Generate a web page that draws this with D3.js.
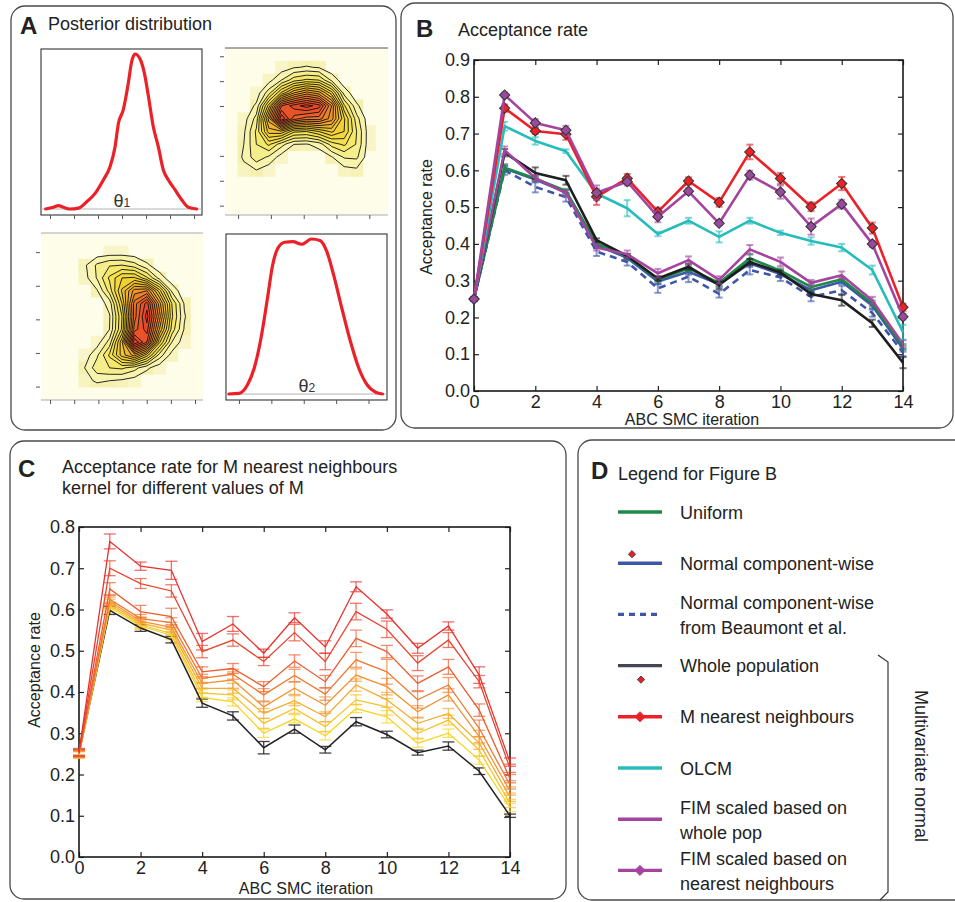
<!DOCTYPE html>
<html>
<head>
<meta charset="utf-8">
<script src="https://cdn.jsdelivr.net/npm/d3@7"></script>
<style>
  body { margin: 0; background: #fff; }
  svg { display: block; font-family: "Liberation Sans", Arial, sans-serif; }
</style>
</head>
<body>
<svg id="fig" width="955" height="902"></svg>
<script>
// ---- data ----
var iterations = [0, 1, 2, 3, 4, 5, 6, 7, 8, 9, 10, 11, 12, 13, 14];
var iterTicks = [0, 2, 4, 6, 8, 10, 12, 14];
var rateTicksB = [0, 0.1, 0.2, 0.3, 0.4, 0.5, 0.6, 0.7, 0.8, 0.9];
var rateTicksC = [0, 0.1, 0.2, 0.3, 0.4, 0.5, 0.6, 0.7, 0.8];

// panel A, marginal densities (relative height)
var theta1Ticks = [1, 2, 3, 4, 5, 6, 7];
var theta1TicksSide = [1, 2, 3, 5, 6, 7];
var theta2Ticks = [1, 2, 3, 4, 5];
var theta1At = [0.82, 1.14, 1.35, 1.56, 1.83, 2.18, 2.53, 2.88, 3.22, 3.5, 3.71, 3.85, 4.05, 4.26, 4.4, 4.54, 4.75, 4.93, 5.1, 5.3, 5.51, 5.72, 5.93, 6.21, 6.49, 6.76, 7.11];
var theta1Dens = [0, 0.011, 0.022, 0.011, 0, 0.006, 0.047, 0.101, 0.187, 0.273, 0.402, 0.553, 0.639, 0.811, 0.95, 1.0, 0.968, 0.877, 0.726, 0.532, 0.402, 0.252, 0.187, 0.123, 0.058, 0.011, 0];
var theta2At = [0.69, 1.0, 1.26, 1.47, 1.68, 1.88, 2.04, 2.2, 2.41, 2.67, 2.93, 3.24, 3.5, 3.71, 3.92, 4.18, 4.44, 4.7, 4.96, 5.22, 5.43];
var theta2Dens = [0, 0.004, 0.058, 0.166, 0.36, 0.618, 0.832, 0.94, 0.979, 0.983, 0.966, 1.0, 0.99, 0.92, 0.77, 0.55, 0.34, 0.166, 0.058, 0.011, 0];

// joint posterior density, columns = theta1 (low->high), rows = theta2 (high->low)
var jointDens = [
  [0, 0, 0, 0, 0, 0, 0, 0, 0, 0, 0, 0, 0],
  [0, 0, 0, 0, 0.3, 0.4, 0.4, 0.3, 0.1, 0, 0, 0, 0],
  [0, 0, 0, 0.8, 2.2, 2.9, 3.0, 2.4, 1.2, 0.3, 0, 0, 0],
  [0, 0, 0, 0.6, 2.1, 4.2, 6.0, 6.2, 4.2, 1.6, 0.3, 0, 0],
  [0, 0, 0, 0.2, 0.9, 3.4, 7.2, 10.5, 11, 6.5, 1.8, 0.2, 0],
  [0, 0, 0, 0, 0.3, 1.4, 6.0, 12.5, 15.5, 9.5, 4.0, 0.9, 0],
  [0, 0, 0, 0, 0.1, 0.9, 5.0, 12.5, 16.5, 10.5, 4.2, 1.1, 0],
  [0, 0, 0, 0, 0.2, 1.0, 5.2, 13.5, 15.5, 9.0, 3.6, 0.9, 0],
  [0, 0, 0, 0, 0.5, 2.4, 7.8, 17, 14, 6.2, 2.0, 0.4, 0],
  [0, 0, 0, 0.4, 1.8, 4.2, 7.5, 9.5, 6.5, 2.6, 0.6, 0, 0],
  [0, 0, 0, 1.0, 2.6, 3.0, 3.2, 2.4, 1.2, 0.4, 0, 0, 0],
  [0, 0, 0, 0.6, 1.2, 1.0, 0.8, 0.5, 0.2, 0, 0, 0, 0],
  [0, 0, 0, 0, 0, 0, 0, 0, 0, 0, 0, 0, 0]
];
var contourLevels = [1, 2, 3, 4, 5, 6, 7, 8, 9, 10, 11, 12, 13, 14, 15, 16, 17];

// panel B, acceptance rate per kernel
var uniform      = [0.25, 0.607, 0.578, 0.544, 0.401, 0.366, 0.303, 0.333, 0.294, 0.361, 0.327, 0.283, 0.304, 0.238, 0.12];
var uniformErr   = [0.005, 0.01, 0.008, 0.006, 0.006, 0.006, 0.008, 0.008, 0.008, 0.01, 0.006, 0.008, 0.006, 0.008, 0.008];
var normalCW     = [0.25, 0.605, 0.575, 0.54, 0.397, 0.362, 0.298, 0.324, 0.291, 0.347, 0.318, 0.274, 0.297, 0.232, 0.115];
var normalCWErr  = [0.005, 0.008, 0.008, 0.006, 0.006, 0.006, 0.008, 0.008, 0.008, 0.01, 0.006, 0.008, 0.006, 0.008, 0.008];
var beaumont     = [0.25, 0.60, 0.555, 0.527, 0.379, 0.351, 0.279, 0.311, 0.264, 0.329, 0.309, 0.256, 0.274, 0.212, 0.105];
var beaumontErr  = [0.005, 0.012, 0.015, 0.012, 0.012, 0.01, 0.012, 0.015, 0.01, 0.012, 0.01, 0.012, 0.012, 0.01, 0.01];
var wholePop     = [0.25, 0.648, 0.593, 0.573, 0.41, 0.367, 0.306, 0.338, 0.288, 0.351, 0.322, 0.264, 0.247, 0.184, 0.077];
var wholePopErr  = [0.005, 0.01, 0.015, 0.012, 0.005, 0.006, 0.006, 0.008, 0.01, 0.008, 0.006, 0.005, 0.015, 0.01, 0.015];
var mNearest     = [0.25, 0.769, 0.707, 0.698, 0.528, 0.578, 0.487, 0.571, 0.513, 0.65, 0.578, 0.501, 0.564, 0.443, 0.228];
var mNearestErr  = [0.005, 0.01, 0.008, 0.015, 0.022, 0.012, 0.012, 0.01, 0.012, 0.02, 0.015, 0.012, 0.018, 0.015, 0.01];
var olcm         = [0.25, 0.72, 0.68, 0.652, 0.537, 0.497, 0.427, 0.463, 0.419, 0.463, 0.43, 0.408, 0.39, 0.329, 0.16];
var olcmErr      = [0.005, 0.012, 0.01, 0.005, 0.008, 0.022, 0.006, 0.008, 0.015, 0.008, 0.006, 0.01, 0.01, 0.012, 0.02];
var fimWhole     = [0.25, 0.655, 0.579, 0.538, 0.39, 0.372, 0.32, 0.356, 0.302, 0.385, 0.351, 0.294, 0.315, 0.246, 0.128];
var fimWholeErr  = [0.005, 0.01, 0.008, 0.008, 0.008, 0.01, 0.012, 0.01, 0.01, 0.012, 0.012, 0.008, 0.01, 0.01, 0.01];
var fimNearest   = [0.25, 0.805, 0.729, 0.709, 0.539, 0.569, 0.474, 0.543, 0.456, 0.587, 0.541, 0.447, 0.508, 0.40, 0.202];
var fimNearestErr= [0.005, 0.006, 0.01, 0.012, 0.02, 0.01, 0.015, 0.008, 0.005, 0.012, 0.018, 0.022, 0.012, 0.008, 0.008];

// panel C, M nearest neighbours for decreasing M (red -> yellow), whole population last
var mLines = [
  [0.255, 0.765, 0.705, 0.695, 0.522, 0.565, 0.494, 0.58, 0.509, 0.655, 0.589, 0.506, 0.56, 0.441, 0.23],
  [0.253, 0.70, 0.663, 0.645, 0.498, 0.526, 0.474, 0.544, 0.474, 0.595, 0.552, 0.47, 0.526, 0.425, 0.215],
  [0.252, 0.65, 0.595, 0.583, 0.449, 0.457, 0.413, 0.475, 0.425, 0.53, 0.498, 0.421, 0.461, 0.356, 0.19],
  [0.25, 0.625, 0.578, 0.568, 0.433, 0.443, 0.393, 0.44, 0.395, 0.478, 0.449, 0.381, 0.417, 0.312, 0.175],
  [0.25, 0.62, 0.572, 0.557, 0.421, 0.429, 0.364, 0.409, 0.368, 0.441, 0.413, 0.352, 0.393, 0.292, 0.16],
  [0.249, 0.615, 0.567, 0.55, 0.409, 0.409, 0.348, 0.379, 0.34, 0.417, 0.381, 0.324, 0.348, 0.276, 0.145],
  [0.248, 0.61, 0.563, 0.542, 0.397, 0.393, 0.324, 0.36, 0.316, 0.381, 0.364, 0.30, 0.332, 0.259, 0.13],
  [0.247, 0.605, 0.56, 0.537, 0.387, 0.376, 0.30, 0.335, 0.294, 0.36, 0.34, 0.276, 0.30, 0.235, 0.12],
  [0.25, 0.598, 0.555, 0.527, 0.373, 0.342, 0.265, 0.31, 0.26, 0.328, 0.297, 0.253, 0.269, 0.208, 0.10]
];
var mLinesErr = [
  [0.008, 0.018, 0.01, 0.022, 0.02, 0.018, 0.01, 0.012, 0.015, 0.012, 0.01, 0.012, 0.01, 0.02, 0.01],
  [0.008, 0.018, 0.012, 0.015, 0.015, 0.015, 0.01, 0.02, 0.02, 0.02, 0.02, 0.018, 0.018, 0.015, 0.01],
  [0.008, 0.015, 0.015, 0.02, 0.012, 0.012, 0.012, 0.015, 0.015, 0.02, 0.015, 0.018, 0.018, 0.015, 0.01],
  [0.008, 0.01, 0.01, 0.012, 0.01, 0.012, 0.015, 0.015, 0.015, 0.018, 0.03, 0.02, 0.018, 0.02, 0.01],
  [0.008, 0.01, 0.01, 0.012, 0.012, 0.02, 0.012, 0.015, 0.02, 0.015, 0.02, 0.015, 0.015, 0.015, 0.01],
  [0.008, 0.01, 0.01, 0.01, 0.012, 0.012, 0.012, 0.012, 0.012, 0.015, 0.018, 0.015, 0.012, 0.015, 0.01],
  [0.008, 0.008, 0.01, 0.01, 0.01, 0.012, 0.012, 0.012, 0.012, 0.012, 0.02, 0.012, 0.012, 0.015, 0.01],
  [0.008, 0.008, 0.008, 0.01, 0.01, 0.01, 0.01, 0.01, 0.01, 0.01, 0.015, 0.01, 0.01, 0.01, 0.01],
  [0.006, 0.01, 0.008, 0.008, 0.01, 0.01, 0.015, 0.01, 0.008, 0.01, 0.008, 0.006, 0.01, 0.008, 0.004]
];
var mColors = ["#e8312c", "#e9442e", "#ec5c30", "#ef7832", "#f29333", "#f5ab30", "#f7c22b", "#f8d424", "#222222"];

// panel D
var legendLabels = [
  ["Uniform"],
  ["Normal component-wise"],
  ["Normal component-wise", "from Beaumont et al."],
  ["Whole population"],
  ["M nearest neighbours"],
  ["OLCM"],
  ["FIM scaled based on", "whole pop"],
  ["FIM scaled based on", "nearest neighbours"]
];

// ---- drawing ----
var svg = d3.select("#fig");
var FONT = "Liberation Sans, Arial, sans-serif";

var seriesB = [
  { values: beaumont,   err: beaumontErr,   color: "#3d56a8", dash: "7,5", marker: null },
  { values: normalCW,   err: normalCWErr,   color: "#3d56a8", dash: null,  marker: null },
  { values: uniform,    err: uniformErr,    color: "#1d8a47", dash: null,  marker: null },
  { values: wholePop,   err: wholePopErr,   color: "#1e1e1e", dash: null,  marker: null },
  { values: fimWhole,   err: fimWholeErr,   color: "#a4449e", dash: null,  marker: null },
  { values: olcm,       err: olcmErr,       color: "#27bcbc", dash: null,  marker: null },
  { values: mNearest,   err: mNearestErr,   color: "#ec2127", dash: null,  marker: "#ec2127" },
  { values: fimNearest, err: fimNearestErr, color: "#a4449e", dash: null,  marker: "#9a4a9e" }
];

var legendStyles = [
  { color: "#1d8a47", dash: null, marker: null },
  { color: "#3d56a8", dash: null, marker: "above" },
  { color: "#3d56a8", dash: "6,5", marker: null },
  { color: "#45455a", dash: null, marker: "below" },
  { color: "#ec2127", dash: null, marker: "#ec2127" },
  { color: "#27bcbc", dash: null, marker: null },
  { color: "#a4449e", dash: null, marker: null },
  { color: "#a4449e", dash: null, marker: "#a4449e" }
];

function frame(x, y, w, h) {
  svg.append("rect")
    .attr("x", x).attr("y", y).attr("width", w).attr("height", h)
    .attr("rx", 14).attr("ry", 14)
    .attr("fill", "none").attr("stroke", "#4a4a4a").attr("stroke-width", 1.3);
}

function label(x, y, txt, size, weight) {
  return svg.append("text").attr("x", x).attr("y", y)
    .attr("font-size", size).attr("font-weight", weight || "normal")
    .attr("fill", "#222").text(txt);
}

function styleAxis(sel, fontSize) {
  sel.select(".domain").remove();
  sel.selectAll("line").attr("stroke", "#222").attr("stroke-width", 1.2);
  sel.selectAll("text").attr("font-size", fontSize).attr("font-family", FONT).attr("fill", "#222");
}

// boxed plot with inward ticks on all four sides
function plotAxes(x, y, yTicks) {
  var g = svg.append("g");
  var x0 = x.range()[0], x1 = x.range()[1], y0 = y.range()[0], y1 = y.range()[1];
  g.append("g").attr("transform", "translate(0," + y0 + ")")
    .call(d3.axisBottom(x).tickValues(iterTicks).tickSizeInner(-5).tickSizeOuter(0).tickPadding(4).tickFormat(d3.format("d")))
    .call(styleAxis, 18);
  g.append("g").attr("transform", "translate(0," + y1 + ")")
    .call(d3.axisTop(x).tickValues(iterTicks).tickSizeInner(-5).tickSizeOuter(0).tickFormat(""))
    .call(styleAxis, 18);
  g.append("g").attr("transform", "translate(" + x0 + ",0)")
    .call(d3.axisLeft(y).tickValues(yTicks).tickSizeInner(-5).tickSizeOuter(0).tickPadding(4).tickFormat(d3.format(".1f")))
    .call(styleAxis, 18);
  g.append("g").attr("transform", "translate(" + x1 + ",0)")
    .call(d3.axisRight(y).tickValues(yTicks).tickSizeInner(-5).tickSizeOuter(0).tickFormat(""))
    .call(styleAxis, 18);
  g.append("rect").attr("x", x0).attr("y", y1).attr("width", x1 - x0).attr("height", y0 - y1)
    .attr("fill", "none").attr("stroke", "#1a1a1a").attr("stroke-width", 1.6);
}

function errorBars(g, x, y, values, err, color, cap, width, opacity) {
  var eb = g.append("g").attr("stroke", color).attr("stroke-width", width).attr("stroke-opacity", opacity);
  values.forEach(function(v, i) {
    var cx = x(iterations[i]), lo = y(v - err[i]), hi = y(v + err[i]);
    eb.append("line").attr("x1", cx).attr("x2", cx).attr("y1", lo).attr("y2", hi);
    eb.append("line").attr("x1", cx - cap).attr("x2", cx + cap).attr("y1", lo).attr("y2", lo);
    eb.append("line").attr("x1", cx - cap).attr("x2", cx + cap).attr("y1", hi).attr("y2", hi);
  });
}

var diamond = d3.symbol().type(d3.symbolSquare).size(52);
var smallDiamond = d3.symbol().type(d3.symbolSquare).size(26);

// ---- panel A ----
frame(11, 6, 385, 424);
label(20, 34, "A", 24, "bold");
label(48, 30, "Posterior distribution", 18);

function tickRow(scale, ticks, orient, pos) {
  var ax = orient === "bottom" ? d3.axisBottom(scale) : d3.axisLeft(scale);
  var g = svg.append("g")
    .attr("transform", orient === "bottom" ? "translate(0," + pos + ")" : "translate(" + pos + ",0)")
    .call(ax.tickValues(ticks).tickSizeInner(4).tickSizeOuter(0).tickFormat(""));
  g.select(".domain").remove();
  g.selectAll("line").attr("stroke", "#555").attr("stroke-width", 1);
}

function densityPanel(left, top, w, h, base, at, dens, ticks, dom, sym, sub) {
  var x = d3.scaleLinear().domain(dom).range([left, left + w]);
  var y = d3.scaleLinear().domain([0, 1]).range([base, base - 155]);
  svg.append("rect").attr("x", left).attr("y", top).attr("width", w).attr("height", h)
    .attr("fill", "#fff").attr("stroke", "#333").attr("stroke-width", 1.1);
  svg.append("line").attr("x1", left).attr("x2", left + w).attr("y1", base).attr("y2", base)
    .attr("stroke", "#b4b4b4").attr("stroke-width", 1.2);
  var t = svg.append("text").attr("x", x((dom[0] + dom[1]) / 2) - 8).attr("y", base - 2)
    .attr("fill", "#333").attr("font-size", 18);
  t.append("tspan").text(sym);
  t.append("tspan").attr("font-size", 12).text(sub);
  svg.append("path")
    .datum(dens)
    .attr("fill", "none").attr("stroke", "#ec2127").attr("stroke-width", 3.2)
    .attr("stroke-linejoin", "round").attr("stroke-linecap", "round")
    .attr("d", d3.line().x(function(d, i) { return x(at[i]); }).y(function(d) { return y(d); })
      .curve(d3.curveMonotoneX));
  tickRow(x, ticks, "bottom", top + h);
}

var theta1Dom = [0.625, 7.33];
var theta2Dom = [0.6, 5.57];

densityPanel(41, 49, 161, 166, 209, theta1At, theta1Dens, theta1Ticks, theta1Dom, "\u03b8", "1");
densityPanel(226, 234, 161, 166, 394, theta2At, theta2Dens, theta2Ticks, theta2Dom, "\u03b8", "2");

var bandColor = d3.interpolateRgbBasis(["#f8f3ad", "#f3e23a", "#f1c22c", "#ee8a27", "#e8522a", "#e23324"]);

function contourPanel(left, top, w, h, grid, transpose) {
  var n = grid.length;
  var values = [];
  for (var r = 0; r < n; r++) {
    for (var c = 0; c < n; c++) {
      values.push(transpose ? grid[n - 1 - c][n - 1 - r] : grid[r][c]);
    }
  }
  var sx = w / n, sy = h / n;
  var g = svg.append("g");
  g.append("rect").attr("x", left).attr("y", top).attr("width", w).attr("height", h).attr("fill", "#fdfde9");
  // raster under the contours
  values.forEach(function(v, k) {
    if (v < 0.35) return;
    g.append("rect")
      .attr("x", left + (k % n) * sx).attr("y", top + Math.floor(k / n) * sy)
      .attr("width", sx + 0.3).attr("height", sy + 0.3)
      .attr("fill", d3.interpolateRgb("#fbf9d8", "#f6f0b0")(Math.min(v, 1)));
  });
  var proj = d3.geoTransform({ point: function(px, py) {
    this.stream.point(left + px * sx, top + py * sy);
  }});
  var path = d3.geoPath(proj);
  var bands = d3.contours().size([n, n]).thresholds(contourLevels)(values);
  var maxLevel = contourLevels[contourLevels.length - 1];
  g.selectAll("path.band").data(bands).enter().append("path")
    .attr("d", path)
    .attr("fill", function(d) { return bandColor((d.value - 1) / (maxLevel - 1)); })
    .attr("stroke", "#111").attr("stroke-width", 0.9).attr("stroke-linejoin", "round");
  g.append("line").attr("x1", left).attr("x2", left + w).attr("y1", top).attr("y2", top)
    .attr("stroke", transpose ? "#555" : "#aaa").attr("stroke-width", 1);
  g.append("line").attr("x1", left).attr("x2", left + w).attr("y1", top + h).attr("y2", top + h)
    .attr("stroke", "#aaa").attr("stroke-width", 1);
}

// top right: theta2 across, theta1 up
contourPanel(225, 48, 163, 167, jointDens, true);
tickRow(d3.scaleLinear().domain(theta2Dom).range([225, 388]), theta2Ticks, "bottom", 215);
tickRow(d3.scaleLinear().domain(theta1Dom).range([215, 48]), theta1TicksSide, "left", 224);
// bottom left: theta1 across, theta2 up
contourPanel(41, 233, 162, 167, jointDens, false);
tickRow(d3.scaleLinear().domain(theta1Dom).range([41, 203]), theta1Ticks, "bottom", 400);
tickRow(d3.scaleLinear().domain(theta2Dom).range([400, 233]), theta2Ticks, "left", 40);

// ---- panel B ----
frame(401, 3, 552, 425);
label(416, 37, "B", 24, "bold");
label(458, 36, "Acceptance rate", 18);

var bx = d3.scaleLinear().domain([0, 14]).range([474, 903]);
var by = d3.scaleLinear().domain([0, 0.9]).range([391, 60]);
plotAxes(bx, by, rateTicksB);

var lineB = d3.line().x(function(d, i) { return bx(iterations[i]); }).y(function(d) { return by(d); });
var gB = svg.append("g");
seriesB.forEach(function(s) {
  gB.append("path").datum(s.values).attr("d", lineB)
    .attr("fill", "none").attr("stroke", s.color).attr("stroke-width", 2.6)
    .attr("stroke-dasharray", s.dash).attr("stroke-linejoin", "round");
  errorBars(gB, bx, by, s.values, s.err, s.color, 3.5, 2, 0.6);
  if (s.marker) {
    gB.selectAll(null).data(s.values).enter().append("path")
      .attr("d", diamond)
      .attr("transform", function(d, i) { return "translate(" + bx(iterations[i]) + "," + by(d) + ") rotate(45)"; })
      .attr("fill", s.marker).attr("stroke", "#333").attr("stroke-width", 1);
  }
});

svg.append("text").attr("transform", "translate(432,217) rotate(-90)")
  .attr("text-anchor", "middle").attr("font-size", 16).attr("fill", "#222").text("Acceptance rate");
svg.append("text").attr("x", 692).attr("y", 425)
  .attr("text-anchor", "middle").attr("font-size", 16).attr("fill", "#222").text("ABC SMC iteration");

// ---- panel C ----
frame(10, 441, 556, 458);
label(18, 477, "C", 24, "bold");
label(62, 473, "Acceptance rate for M nearest neighbours", 18);
label(62, 494, "kernel for different values of M", 18);

var cx = d3.scaleLinear().domain([0, 14]).range([79, 510]);
var cy = d3.scaleLinear().domain([0, 0.8]).range([857, 527]);
plotAxes(cx, cy, rateTicksC);

var lineC = d3.line().x(function(d, i) { return cx(iterations[i]); }).y(function(d) { return cy(d); });
var gC = svg.append("g");
mLines.slice().reverse().forEach(function(vals, k) {
  var idx = mLines.length - 1 - k;
  var col = mColors[idx];
  var isBlack = idx === mLines.length - 1;
  errorBars(gC, cx, cy, vals, mLinesErr[idx], col, 6, 1.3, isBlack ? 0.85 : 0.7);
});
mLines.slice().reverse().forEach(function(vals, k) {
  var idx = mLines.length - 1 - k;
  gC.append("path").datum(vals).attr("d", lineC)
    .attr("fill", "none").attr("stroke", mColors[idx])
    .attr("stroke-width", idx === mLines.length - 1 ? 1.5 : 1.3);
});

svg.append("text").attr("transform", "translate(40,670) rotate(-90)")
  .attr("text-anchor", "middle").attr("font-size", 16).attr("fill", "#222").text("Acceptance rate");
svg.append("text").attr("x", 306).attr("y", 894)
  .attr("text-anchor", "middle").attr("font-size", 16).attr("fill", "#222").text("ABC SMC iteration");

// ---- panel D ----
frame(578, 440, 420, 460);
label(591, 479, "D", 24, "bold");
label(618, 480, "Legend for Figure B", 18);

var gD = svg.append("g");
legendLabels.forEach(function(lines, i) {
  var st = legendStyles[i];
  var ry = 512 + i * 51.2;
  gD.append("line").attr("x1", 618).attr("x2", 662).attr("y1", ry).attr("y2", ry)
    .attr("stroke", st.color).attr("stroke-width", 3.4).attr("stroke-dasharray", st.dash);
  if (st.marker === "above" || st.marker === "below") {
    var my = st.marker === "above" ? ry - 9 : ry + 14;
    var mx = st.marker === "above" ? 632 : 641;
    gD.append("path").attr("d", smallDiamond)
      .attr("transform", "translate(" + mx + "," + my + ") rotate(45)")
      .attr("fill", "#ec2127").attr("stroke", "#333").attr("stroke-width", 0.8);
  } else if (st.marker) {
    gD.append("path").attr("d", diamond)
      .attr("transform", "translate(640," + ry + ") rotate(45)")
      .attr("fill", st.marker).attr("stroke", st.marker).attr("stroke-width", 0.8);
  }
  var t = gD.append("text").attr("font-size", 18).attr("fill", "#222");
  if (lines.length === 1) {
    t.append("tspan").attr("x", 680).attr("y", ry + 6.5).text(lines[0]);
  } else {
    t.append("tspan").attr("x", 680).attr("y", ry - 5).text(lines[0]);
    t.append("tspan").attr("x", 680).attr("y", ry + 19.5).text(lines[1]);
  }
});

svg.append("path").attr("d", "M878,655 L888,662 L888,892 L880,900")
  .attr("fill", "none").attr("stroke", "#333").attr("stroke-width", 1.2);
svg.append("text").attr("transform", "translate(915,766) rotate(90)")
  .attr("text-anchor", "middle").attr("font-size", 18).attr("fill", "#222").text("Multivariate normal");
</script>
</body>
</html>
